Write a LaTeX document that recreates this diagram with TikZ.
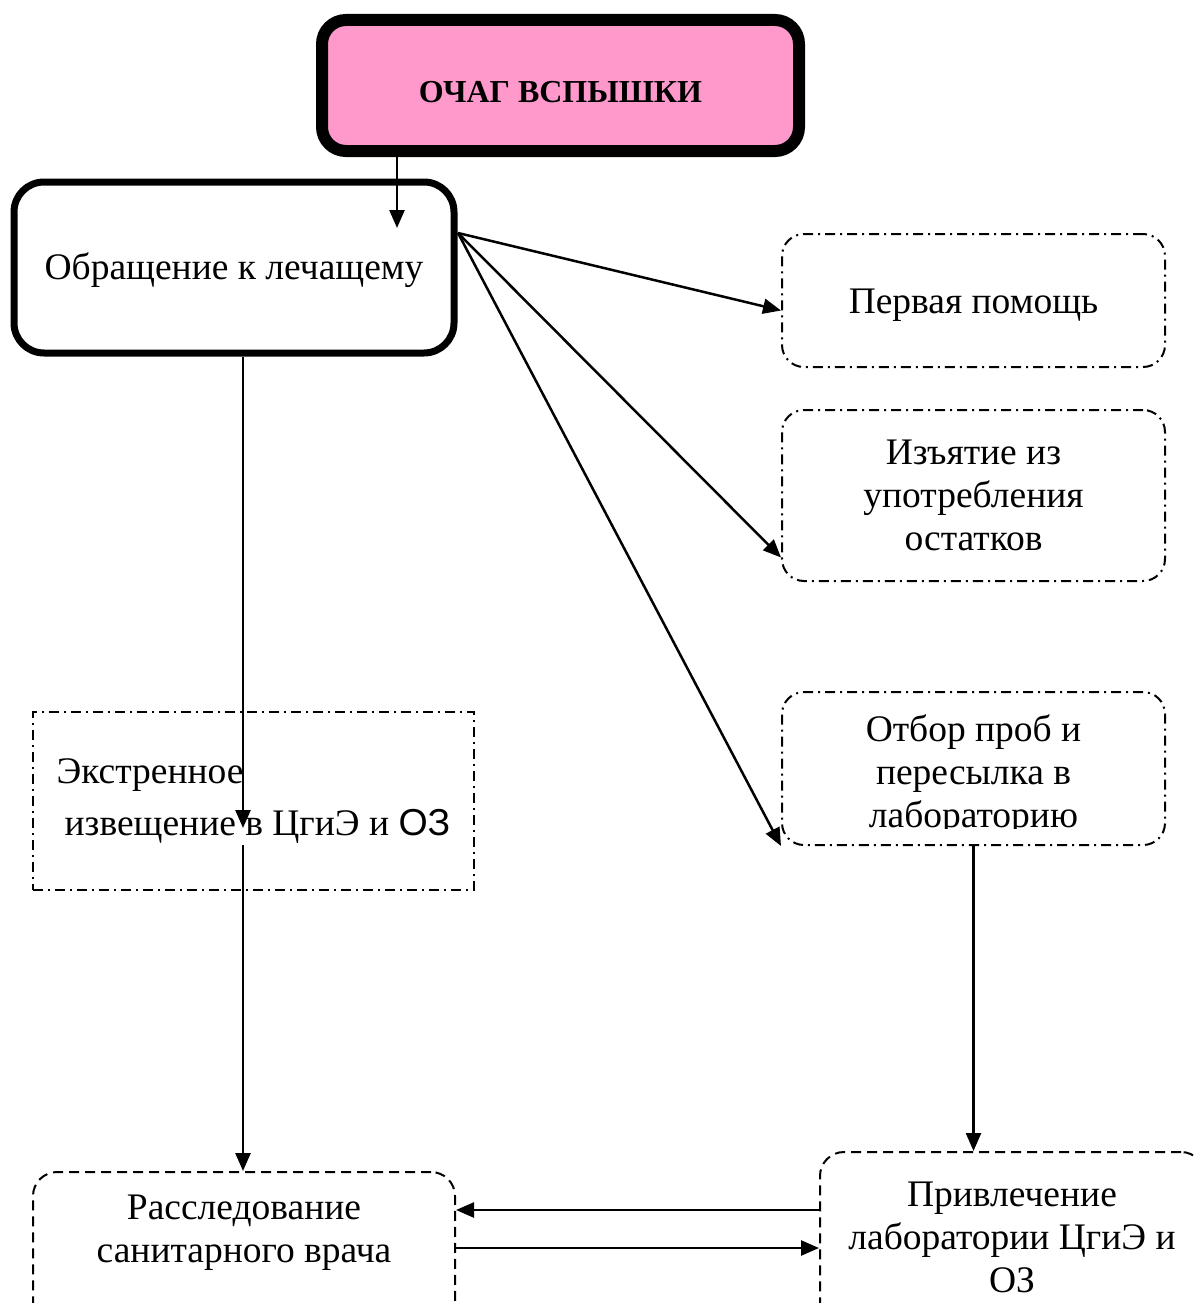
\documentclass[tikz,border=0pt]{standalone}
\usepackage{fontspec}
\setmainfont{Liberation Serif}
\newfontfamily\arialfont{Liberation Sans}
\usetikzlibrary{arrows.meta}
\definecolor{ochagpink}{RGB}{255,153,204}

\tikzstyle{ochag} = [align=center, rectangle, draw, fill=ochagpink, rounded corners=24pt, line width=12pt, minimum width=477pt, minimum height=131pt, font=\fontsize{32}{38}\selectfont\bfseries]
\tikzstyle{obr} = [align=center, rectangle, draw, rounded corners=30pt, line width=7pt, minimum width=440pt, minimum height=171pt, font=\fontsize{37.5}{43}\selectfont]
\tikzstyle{dd} = [align=center, rectangle, draw, rounded corners=22pt, line width=2pt, dash pattern=on 10pt off 5pt on 2pt off 5pt, minimum width=383pt, font=\fontsize{37.5}{43}\selectfont]
\tikzstyle{dsh} = [rectangle, draw, rounded corners=24pt, line width=2pt, dash pattern=on 10pt off 6pt]
\tikzstyle{txt} = [align=center, font=\fontsize{37.5}{43}\selectfont]
\tikzstyle{ln} = [->, line width=2.5pt]

\begin{document}
\begin{tikzpicture}[x=1pt, y=-1pt, >={Triangle[length=18pt,width=15pt]}]
\clip (0,0) rectangle (1195,1303);
\node [ochag] (ochag) at (560.5,85.5) {\raisebox{-7pt}[\height][\depth]{ОЧАГ ВСПЫШКИ}};
\node [obr] (obr) at (234,267.5) {\raisebox{-3pt}[\height][\depth]{Обращение к лечащему}};
\node [dd, minimum height=133pt] (pervaya) at (973.5,300.5) {\raisebox{-5pt}[\height][\depth]{Первая помощь}};
\node [dd, minimum height=171pt] (izyatie) at (973.5,495.5) {Изъятие из\\употребления\\остатков};
\node [dd, minimum height=153pt] (otbor) at (973.5,768.5) {};
\begin{scope}
\clip (782,692) rectangle (1165,828);
\node [txt] (otbortxt) at (973.5,775) {Отбор проб и\\пересылка в\\лабораторию};
\end{scope}
\node [dd, sharp corners, minimum width=441pt, minimum height=178pt, align=left] (ekstr) at (253.5,801) {Экстренное\\[9pt]\hspace*{8pt}извещение в ЦгиЭ и {\arialfont ОЗ}};
\node [dsh, minimum width=422pt, minimum height=158pt] (rassl) at (244,1251) {};
\node [txt] (rassltxt) at (244,1233) {Расследование\\санитарного врача};
\node [dsh, minimum width=385pt, minimum height=178pt] (priv) at (1012.5,1241) {};
\node [txt] (privtxt) at (1012,1237) {Привлечение\\лаборатории ЦгиЭ и\\ОЗ};
\coordinate (obrin) at (397,228);
\coordinate (fan) at (458,233);
\coordinate (ekin) at (243,828);
\coordinate (ekout) at (243,845);
\coordinate (back) at (0,1210);
\coordinate (fwd) at (0,1248);
\draw [ln] (ochag.south -| obrin) -- (obrin);
\draw [ln] (fan) -- ([yshift=-10pt]pervaya.west);
\draw [ln] (fan) -- ([yshift=-62pt]izyatie.west);
\draw [ln] (fan) -- (otbor.south west);
\draw [ln] (obr.south -| ekin) -- (ekin);
\draw [ln] (ekout) -- (ekout |- rassl.north);
\draw [ln] (otbor.south) -- (otbor.south |- priv.north);
\draw [ln] (priv.west |- back) -- (rassl.east |- back);
\draw [ln] (rassl.east |- fwd) -- (priv.west |- fwd);
\end{tikzpicture}
\end{document}
